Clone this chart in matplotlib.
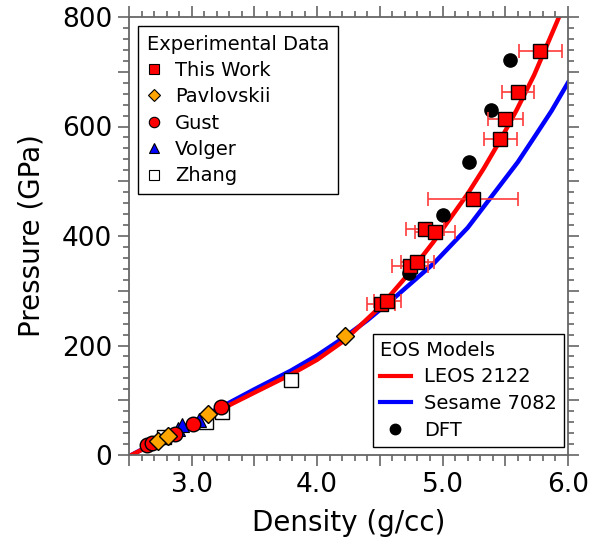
import numpy as np
import matplotlib
matplotlib.use("Agg")
import matplotlib.pyplot as plt
from matplotlib.lines import Line2D
from matplotlib.ticker import MultipleLocator, FuncFormatter

# EOS model curves (density g/cc, pressure GPa)
leos_rho = [2.52, 2.77, 3.00, 3.23, 3.50, 3.79, 4.00, 4.21, 4.50, 4.73, 4.93, 5.20, 5.33, 5.46, 5.59, 5.73, 5.91, 5.95]
leos_p = [0, 29, 56, 83, 114, 147, 174, 208, 270, 331, 390, 477, 524, 575, 630, 694, 790, 812]
sesame_rho = [2.52, 3.00, 3.50, 3.79, 4.00, 4.21, 4.40, 4.61, 4.93, 5.20, 5.46, 5.60, 5.73, 5.87, 6.00]
sesame_p = [0, 59, 120, 154, 182, 214, 246, 286, 350, 415, 493, 535, 580, 629, 680]

# experimental data
work_rho = [4.51, 4.56, 4.74, 4.80, 4.86, 4.94, 5.24, 5.46, 5.50, 5.60, 5.78]
work_p = [275, 281, 345, 352, 413, 407, 468, 577, 614, 663, 737]
work_err = [0.11, 0.11, 0.14, 0.13, 0.15, 0.16, 0.36, 0.13, 0.14, 0.13, 0.17]

pav_rho = [2.73, 2.81, 3.13, 4.22]
pav_p = [25, 35, 74, 218]

gust_rho = [2.64, 2.68, 2.87, 3.01, 3.23]
gust_p = [19, 22, 38, 56, 87]

volger_rho = [2.89, 2.92, 3.06]
volger_p = [47, 54, 64]

zhang_rho = [2.78, 3.11, 3.24, 3.79]
zhang_p = [32, 61, 78, 137]

dft_rho = [4.73, 5.00, 5.21, 5.39, 5.54]
dft_p = [333, 438, 535, 631, 721]

fig = plt.figure(figsize=(6.01, 5.45), dpi=100)
ax = fig.add_axes([129/601, 90/545, 439/601, 438/545])

ax.plot(sesame_rho, sesame_p, color='#0000ff', lw=3.2, zorder=2, solid_joinstyle='round')
ax.plot(leos_rho, leos_p, color='#ff0000', lw=3.2, zorder=2, solid_joinstyle='round')

ax.plot(zhang_rho, zhang_p, 's', ms=9.5, mfc='white', mec='black', mew=1, zorder=3)
ax.plot(volger_rho, volger_p, '^', ms=9.5, mfc='#0000ff', mec='black', mew=0.8, zorder=3)
ax.plot(gust_rho, gust_p, 'o', ms=10.5, mfc='#ff0000', mec='black', mew=1, zorder=3)
ax.plot(pav_rho, pav_p, 'D', ms=9, mfc='#ffa500', mec='black', mew=1, zorder=3)
ax.plot(dft_rho, dft_p, 'o', ms=9.5, mfc='black', mec='black', zorder=4)
ax.errorbar(work_rho, work_p, xerr=work_err, fmt='none', ecolor='#ff3b3b',
            elinewidth=1.2, capsize=5, capthick=1.2, zorder=4)
ax.plot(work_rho, work_p, 's', ms=10, mfc='#ff0000', mec='black', mew=1, zorder=5)

ax.set_xlim(2.5, 6.0)
ax.set_ylim(0, 800)

ax.xaxis.set_major_locator(MultipleLocator(0.5))
ax.xaxis.set_minor_locator(MultipleLocator(0.1))
ax.yaxis.set_major_locator(MultipleLocator(100))
ax.yaxis.set_minor_locator(MultipleLocator(20))
ax.xaxis.set_major_formatter(FuncFormatter(lambda v, p: '%.1f' % v if abs(v - round(v)) < 1e-6 else ''))
ax.yaxis.set_major_formatter(FuncFormatter(lambda v, p: '%d' % v if int(round(v)) % 200 == 0 else ''))

gray = '#666666'
for s in ax.spines.values():
    s.set_color(gray)
    s.set_linewidth(1.3)
ax.tick_params(which='both', direction='out', top=True, right=True, color=gray, width=1.2)
ax.tick_params(which='major', length=8, labelsize=19, pad=4)
ax.tick_params(which='minor', length=4)

ax.set_xlabel('Density (g/cc)', fontsize=20, labelpad=8)
ax.set_ylabel('Pressure (GPa)', fontsize=20, labelpad=12)

exp_handles = [
    Line2D([], [], ls='none', marker='s', ms=7, mfc='#ff0000', mec='black', mew=0.8),
    Line2D([], [], ls='none', marker='D', ms=6.5, mfc='#ffa500', mec='black', mew=0.8),
    Line2D([], [], ls='none', marker='o', ms=7.5, mfc='#ff0000', mec='black', mew=0.8),
    Line2D([], [], ls='none', marker='^', ms=7.5, mfc='#0000ff', mec='black', mew=0.8),
    Line2D([], [], ls='none', marker='s', ms=7, mfc='white', mec='black', mew=0.8),
]
exp_labels = ['This Work', 'Pavlovskii', 'Gust', 'Volger', 'Zhang']
leg1 = ax.legend(exp_handles, exp_labels, title='Experimental Data', loc='upper left',
                 bbox_to_anchor=(0.021, 0.980), borderaxespad=0, fontsize=14,
                 title_fontsize=14, alignment='left', frameon=True, fancybox=False,
                 edgecolor='black', framealpha=1, handlelength=0.75, handletextpad=0.7,
                 labelspacing=0.38, borderpad=0.45)
leg1.get_frame().set_linewidth(1.0)
ax.add_artist(leg1)

eos_handles = [
    Line2D([], [], color='#ff0000', lw=3),
    Line2D([], [], color='#0000ff', lw=3),
    Line2D([], [], ls='none', marker='o', ms=7.5, mfc='black', mec='black'),
]
eos_labels = ['LEOS 2122', 'Sesame 7082', 'DFT']
leg2 = ax.legend(eos_handles, eos_labels, title='EOS Models', loc='lower right',
                 bbox_to_anchor=(0.991, 0.019), borderaxespad=0, fontsize=14,
                 title_fontsize=14, alignment='left', frameon=True, fancybox=False,
                 edgecolor='black', framealpha=1, handlelength=1.6, handletextpad=0.7,
                 labelspacing=0.4, borderpad=0.35)
leg2.get_frame().set_linewidth(1.0)

fig.savefig('out.png', dpi=100)
